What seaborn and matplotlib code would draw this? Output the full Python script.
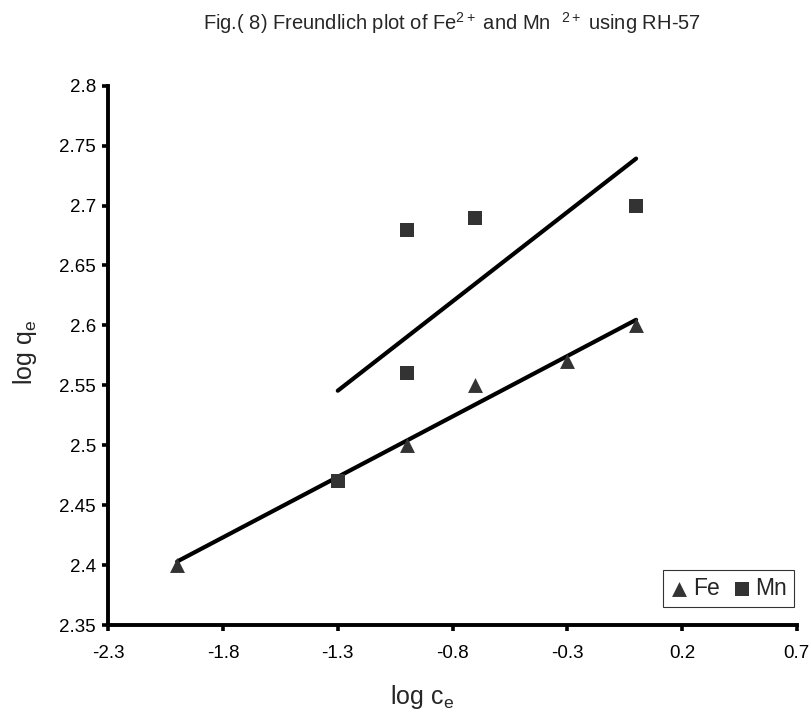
import pandas as pd
import matplotlib
matplotlib.use("Agg")
import matplotlib.pyplot as plt
import seaborn as sns

# Datos (log ce, log qe)
fe_x = [-2.0, -1.0, -0.7, -0.3, 0.0]
fe_y = [2.40, 2.50, 2.55, 2.57, 2.60]
mn_x = [-1.3, -1.0, -1.0, -0.7, 0.0]
mn_y = [2.47, 2.56, 2.68, 2.69, 2.70]

x_ticks = [-2.3, -1.8, -1.3, -0.8, -0.3, 0.2, 0.7]
y_ticks = [2.35, 2.4, 2.45, 2.5, 2.55, 2.6, 2.65, 2.7, 2.75, 2.8]

df_fe = pd.DataFrame({"log_ce": fe_x, "log_qe": fe_y})
df_mn = pd.DataFrame({"log_ce": mn_x, "log_qe": mn_y})

sns.set_style("ticks")
plt.rcParams["font.family"] = ["Liberation Sans", "DejaVu Sans"]
plt.rcParams["mathtext.fontset"] = "custom"
plt.rcParams["mathtext.rm"] = "Liberation Sans"
plt.rcParams["mathtext.it"] = "Liberation Sans"

fig = plt.figure(figsize=(8.12, 7.13), dpi=100)
ax = fig.add_axes([0.1334, 0.1234, 0.8478, 0.7564])

punto = "#333333"
linea = {"color": "black", "linewidth": 3.0, "zorder": 2, "solid_capstyle": "round"}
sns.regplot(data=df_fe, x="log_ce", y="log_qe", ax=ax, ci=None, label="Fe", marker="^",
            scatter_kws={"s": 115, "color": punto, "linewidths": 0, "zorder": 3, "alpha": 1},
            line_kws=linea)
sns.regplot(data=df_mn, x="log_ce", y="log_qe", ax=ax, ci=None, label="Mn", marker="s",
            scatter_kws={"s": 100, "color": punto, "linewidths": 0, "zorder": 3, "alpha": 1},
            line_kws=linea)

ax.set_xlim(-2.3, 0.7)
ax.set_ylim(2.35, 2.8)
ax.set_xticks(x_ticks)
ax.set_xticklabels([f"{v:g}" for v in x_ticks])
ax.set_yticks(y_ticks)
ax.set_yticklabels([f"{v:g}" for v in y_ticks])
ax.tick_params(axis="both", labelsize=13.5, width=2.6, length=4.5, direction="out",
               color="black", labelcolor="black")
ax.tick_params(axis="x", pad=10)
ax.tick_params(axis="y", pad=4.5)

sns.despine(ax=ax)
for lado in ["left", "bottom"]:
    ax.spines[lado].set_linewidth(2.8)
    ax.spines[lado].set_color("black")

ax.set_xlabel("log c$_\\mathregular{e}$", fontsize=18, va="center")
ax.xaxis.set_label_coords(0.456, -0.1335)
ax.set_ylabel("log q$_\\mathregular{e}$", fontsize=18, va="center")
ax.yaxis.set_label_coords(-0.121, 0.505)

fig.text(452 / 812, 1 - 23 / 713,
         "Fig.( 8) Freundlich plot of Fe$^{2+}$ and Mn  $^{2+}$ using RH-57",
         fontsize=14.5, ha="center", va="center")

leg = ax.legend(ncol=2, loc="lower right", bbox_to_anchor=(0.9961, 0.0334),
                frameon=True, fancybox=False, edgecolor="black", fontsize=16.5,
                handletextpad=0.2, columnspacing=0.55, borderpad=0.3,
                handlelength=0.8, borderaxespad=0)
leg.get_frame().set_linewidth(0.8)

plt.savefig("out.png", dpi=100)
